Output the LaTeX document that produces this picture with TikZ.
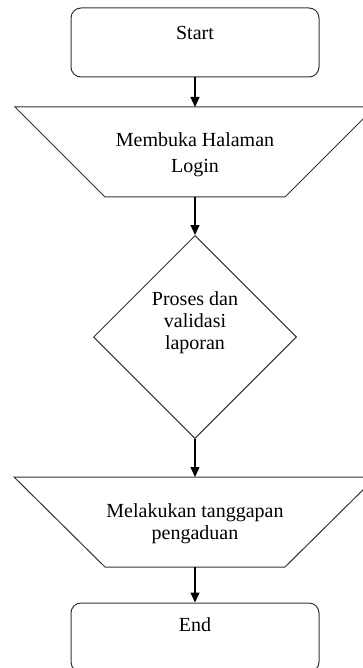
\documentclass[tikz,border=0pt]{standalone}
\usepackage{fontspec}
\setmainfont{Liberation Serif}
\usetikzlibrary{arrows.meta,shapes.geometric}

\begin{document}
\begin{tikzpicture}[x=1pt,y=-1pt,every node/.style={font=\fontsize{20}{22}\selectfont},
  terminal/.style={draw=black!80,line width=1pt,rounded corners=10pt,minimum width=248pt,minimum height=69pt},
  iobox/.style={draw=black!80,line width=1pt},
  iotext/.style={align=center,inner sep=0pt},
  decision/.style={draw=black!80,line width=1pt,diamond,aspect=1,inner sep=0pt,minimum width=203pt,minimum height=203pt},
  flow/.style={-{Triangle[width=9pt,length=10pt]},line width=1.3pt}]
\useasboundingbox (0,0) rectangle (363,668);
\clip (0,0) rectangle (363,668);
% start
\node[terminal,label={[yshift=9.5pt]center:Start}] (start) at (195,42.5) {};
% input: login page
\node[iotext] (login) at (195,155) {Membuka Halaman\\[4pt]Login};
\draw[iobox] (15,107) -- (375,107) -- (285,197) -- (105,197) -- cycle;
\coordinate (logintop) at (195,107);
\coordinate (loginbot) at (195,197);
% decision
\node[decision,label={[align=center,yshift=14pt]center:{Proses dan\\validasi\\laporan}}] (valid) at (195,337) {};
% output: response
\node[iotext] (respond) at (195,524) {Melakukan tanggapan\\pengaduan};
\draw[iobox] (14,477) -- (376,477) -- (285,567) -- (105,567) -- cycle;
\coordinate (respondtop) at (195,477);
\coordinate (respondbot) at (195,567);
% end
\node[terminal,label={[yshift=12.5pt]center:End}] (end) at (195,637.5) {};
\draw[flow] (start) -- (logintop);
\draw[flow] (loginbot) -- (valid);
\draw[flow] (valid) -- (respondtop);
\draw[flow] (respondbot) -- (end);
\end{tikzpicture}
\end{document}
